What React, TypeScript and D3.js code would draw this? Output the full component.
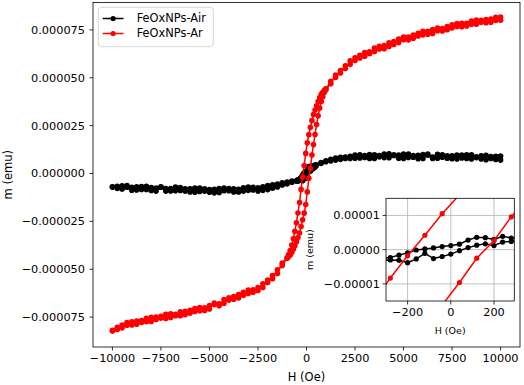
import React from 'react';
import * as d3 from 'd3';

// field steps (Oe), in the order of the descending sweep
const arField = [
  10000, 9750, 9500, 9250, 9000, 8750, 8500, 8250, 8000, 7750, 7500, 7250, 7000, 6750, 6500, 6250, 6000, 5750,
  5500, 5250, 5000, 4750, 4500, 4250, 4000, 3750, 3500, 3250, 3000, 2750, 2500, 2250, 2000, 1750, 1500, 1250,
  1000, 920, 840, 760, 680, 600, 520, 440, 360, 280, 200, 120, 40, -40, -120, -200, -280, -360, -440, -520,
  -600, -680, -760, -840, -920, -1000,
  -1250, -1500, -1750, -2000, -2250, -2500, -2750, -3000, -3250, -3500, -3750, -4000, -4250, -4500, -4750,
  -5000, -5250, -5500, -5750, -6000, -6250, -6500, -6750, -7000, -7250, -7500, -7750, -8000, -8250, -8500,
  -8750, -9000, -9250, -9500, -9750, -10000,
];
// moment in micro-emu, descending branch
const arDown = [
  81.7, 79.9, 80.6, 78.7, 80.0, 80.2, 78.0, 77.0, 78.4, 76.8, 77.7, 75.1, 75.7, 75.9, 73.1, 74.2, 72.4, 73.2,
  70.6, 71.2, 71.3, 68.4, 68.9, 66.3, 66.8, 66.4, 63.7, 63.5, 61.2, 61.7, 59.0, 58.8, 54.8, 53.8, 50.2, 48.1,
  44.2, 43.4, 42.4, 41.3, 39.6, 37.6, 35.4, 33.2, 30.8, 27.6, 24.1, 20.3, 16.0, 10.5, 4.2, -1.8, -8.3, -15.2,
  -20.6, -25.7, -30.2, -34.1, -37.4, -40.2, -42.3, -44.0,
  -46.8, -52.2, -53.3, -56.9, -57.6, -61.1, -60.7, -62.7, -62.0, -65.0, -64.3, -64.9, -67.7, -68.1, -67.7,
  -70.7, -70.1, -71.7, -70.5, -73.0, -71.9, -74.3, -73.5, -73.3, -75.7, -74.6, -76.2, -75.1, -77.4, -76.8,
  -78.7, -77.4, -79.2, -79.2, -81.4, -82.3,
];
// ascending branch, same field order
const arUp = [
  80.0, 81.6, 79.0, 80.4, 79.0, 78.0, 79.6, 78.5, 76.7, 78.3, 76.0, 76.8, 74.4, 74.6, 75.2, 72.7, 74.2, 71.8,
  72.3, 69.8, 69.9, 70.2, 67.4, 68.2, 65.2, 65.0, 65.5, 62.5, 63.1, 60.3, 60.4, 57.0, 56.3, 52.5, 51.4, 46.9,
  43.8, 42.4, 40.1, 37.6, 34.2, 30.1, 25.6, 20.4, 15.1, 9.6, 2.6, -2.5, -9.6, -16.2, -20.7, -24.2, -27.7,
  -31.1, -33.4, -35.6, -37.7, -39.6, -41.2, -42.5, -43.4, -44.2,
  -48.1, -50.3, -54.9, -55.6, -59.5, -59.5, -62.0, -60.8, -63.6, -63.2, -65.7, -66.1, -65.8, -69.1, -68.4,
  -68.9, -71.5, -70.0, -72.0, -71.5, -73.7, -72.2, -74.3, -75.2, -73.5, -75.5, -74.9, -77.3, -75.6, -77.8,
  -77.1, -79.1, -77.8, -80.6, -80.3, -81.9,
];

const airField = [
  10000, 9750, 9500, 9250, 9000, 8750, 8500, 8250, 8000, 7750, 7500, 7250, 7000, 6750, 6500, 6250, 6000, 5750,
  5500, 5250, 5000, 4750, 4500, 4250, 4000, 3750, 3500, 3250, 3000, 2750, 2500, 2250, 2000, 1750, 1500, 1250,
  1000, 750, 500,
  440, 400, 360, 320, 280, 240, 200, 160, 120, 80, 40, 0, -40, -80, -120, -160, -200, -240, -280, -320, -360,
  -400, -440,
  -500, -750, -1000, -1250, -1500, -1750, -2000, -2250, -2500, -2750, -3000, -3250, -3500, -3750, -4000,
  -4250, -4500, -4750, -5000, -5250, -5500, -5750, -6000, -6250, -6500, -6750, -7000, -7250, -7500, -7750,
  -8000, -8250, -8500, -8750, -9000, -9250, -9500, -9750, -10000,
];
const airDown = [
  9.1, 7.3, 8.8, 7.2, 9.3, 8.7, 7.6, 9.8, 8.1, 9.6, 7.7, 9.2, 9.8, 8.0, 8.6, 10.1, 7.9, 9.5,
  8.5, 10.1, 7.8, 9.7, 9.4, 8.2, 10.1, 8.7, 9.8, 7.9, 9.4, 8.1, 9.7, 7.9, 8.6, 7.4, 8.1, 6.6,
  6.7, 5.2, 4.6,
  4.4, 4.2, 3.9, 3.6, 3.4, 3.9, 3.0, 3.5, 3.6, 2.8, 1.6, 1.2, 0.9, 0.5, 0.2, -0.1, -0.9, -1.6, -2.3, -2.6,
  -2.9, -3.1, -3.4,
  -3.5, -4.6, -4.5, -6.0, -5.5, -7.7, -6.3, -8.8, -7.4, -8.6, -7.1, -9.2, -8.2, -9.6, -7.8,
  -9.0, -7.8, -10.1, -8.4, -8.0, -9.4, -7.6, -9.6, -8.0, -8.9, -7.1, -9.1, -7.9, -7.0, -9.2,
  -7.3, -8.3, -6.8, -8.6, -7.2, -6.3, -8.1, -6.7, -7.1,
];
const airUp = [
  7.0, 9.0, 7.9, 9.5, 7.6, 8.3, 9.8, 7.9, 9.7, 7.6, 9.3, 8.0, 8.5, 10.0, 7.9, 9.5, 9.9, 7.7,
  9.4, 8.4, 10.1, 8.0, 9.8, 10.3, 8.3, 9.4, 7.9, 9.9, 8.4, 9.8, 8.0, 9.0, 7.9, 8.5, 7.0, 7.4,
  6.1, 5.7, 4.1,
  3.5, 3.1, 2.8, 2.6, 2.4, 2.2, 1.2, 1.7, 1.3, 0.6, -0.3, -1.3, -2.0, -2.6, -1.1, -2.7, -3.8, -3.1, -3.0,
  -3.2, -3.5, -3.7, -3.9,
  -4.0, -3.9, -5.4, -4.9, -7.0, -5.9, -8.4, -6.9, -9.2, -7.2, -8.8, -7.5, -9.6, -8.0, -9.0,
  -7.6, -9.9, -8.2, -9.8, -9.2, -7.6, -9.8, -8.0, -9.2, -7.3, -9.0, -7.9, -9.2, -7.2, -7.6,
  -8.9, -6.7, -8.3, -6.9, -8.7, -7.2, -6.4, -7.8, -6.9,
];

const xTicks = [-10000, -7500, -5000, -2500, 0, 2500, 5000, 7500, 10000];
const yTicks = [-0.000075, -0.00005, -0.000025, 0, 0.000025, 0.00005, 0.000075];
const insetXTicks = [-200, 0, 200];
const insetYTicks = [-0.00001, 0, 0.00001];

const series = [
  { name: 'FeOxNPs-Air', color: 'black', field: airField, down: airDown, up: airUp },
  { name: 'FeOxNPs-Ar', color: 'red', field: arField, down: arDown, up: arUp },
];

const FONT = 'DejaVu Sans, sans-serif';

type Pt = [number, number];

// full loop: down sweep then back up
const loop = (field: number[], down: number[], up: number[]): Pt[] => {
  const a: Pt[] = field.map((h, i) => [h, down[i] * 1e-6]);
  const b: Pt[] = field.map((h, i) => [h, up[i] * 1e-6] as Pt).reverse();
  return a.concat(b);
};

const Curves = ({ x, y, r, lw }: { x: any; y: any; r: number; lw: number }) => {
  const line = d3.line<Pt>().x((d) => x(d[0])).y((d) => y(d[1]));
  return (
    <g>
      {series.map((s) => {
        const pts = loop(s.field, s.down, s.up);
        return (
          <g key={s.name}>
            <path d={line(pts) || ''} fill="none" stroke={s.color} strokeWidth={lw} />
            {pts.map((d, i) => (
              <circle key={i} cx={x(d[0])} cy={y(d[1])} r={r} fill={s.color} />
            ))}
          </g>
        );
      })}
    </g>
  );
};

export default function App() {
  const left = 93, right = 520, top = 2.5, bottom = 347;
  const x = d3.scaleLinear().domain([-11000, 11000]).range([left, right]);
  const y = d3.scaleLinear().domain([-90.6e-6, 89.3e-6]).range([bottom, top]);

  const il = 386, ir = 514.3, it = 198.3, ib = 301;
  const ix = d3.scaleLinear().domain([-300, 294]).range([il, ir]);
  const iy = d3.scaleLinear().domain([-15e-6, 15e-6]).range([ib, it]);

  const fy = d3.format('.6f');
  const fiy = d3.format('.5f');
  const fx = d3.format('d');

  return (
    <svg width={524} height={385} style={{ position: 'absolute', left: 0, top: 0 }} fontFamily={FONT}>
      <rect width={524} height={385} fill="white" />
      <defs>
        <clipPath id="mainClip">
          <rect x={left} y={top} width={right - left} height={bottom - top} />
        </clipPath>
        <clipPath id="insetClip">
          <rect x={il} y={it} width={ir - il} height={ib - it} />
        </clipPath>
      </defs>

      {/* main plot */}
      <g clipPath="url(#mainClip)">
        <Curves x={x} y={y} r={2.8} lw={1.5} />
      </g>
      <rect x={left} y={top} width={right - left} height={bottom - top} fill="none" stroke="black" strokeWidth={0.8} />
      {xTicks.map((t) => (
        <g key={t}>
          <line x1={x(t)} x2={x(t)} y1={bottom} y2={bottom + 3.5} stroke="black" strokeWidth={0.8} />
          <text x={x(t)} y={bottom + 15} textAnchor="middle" fontSize={11.3}>{fx(t)}</text>
        </g>
      ))}
      {yTicks.map((t) => (
        <g key={t}>
          <line x1={left - 3.5} x2={left} y1={y(t)} y2={y(t)} stroke="black" strokeWidth={0.8} />
          <text x={left - 8} y={y(t)} dy="0.35em" textAnchor="end" fontSize={11.3}>{fy(t)}</text>
        </g>
      ))}
      <text x={(left + right) / 2} y={381} textAnchor="middle" fontSize={11.5}>H (Oe)</text>
      <text transform={`translate(12,${(top + bottom) / 2}) rotate(-90)`} textAnchor="middle" fontSize={11.5}>m (emu)</text>

      {/* legend */}
      <rect x={98.3} y={7.3} width={115} height={39.4} rx={3} fill="white" fillOpacity={0.8} stroke="#cccccc" strokeWidth={0.8} />
      {series.map((s, i) => {
        const ly = 18.5 + i * 15;
        return (
          <g key={s.name}>
            <line x1={102.7} x2={123.5} y1={ly} y2={ly} stroke={s.color} strokeWidth={1.5} />
            <circle cx={113.1} cy={ly} r={2.6} fill={s.color} />
            <text x={136.7} y={ly} dy="0.35em" fontSize={11.4}>{s.name}</text>
          </g>
        );
      })}

      {/* inset */}
      <rect x={il} y={it} width={ir - il} height={ib - it} fill="white" />
      {insetXTicks.map((t) => (
        <line key={t} x1={ix(t)} x2={ix(t)} y1={it} y2={ib} stroke="#b0b0b0" strokeWidth={0.8} />
      ))}
      {insetYTicks.map((t) => (
        <line key={t} x1={il} x2={ir} y1={iy(t)} y2={iy(t)} stroke="#b0b0b0" strokeWidth={0.8} />
      ))}
      <g clipPath="url(#insetClip)">
        <Curves x={ix} y={iy} r={2.6} lw={1.5} />
      </g>
      <rect x={il} y={it} width={ir - il} height={ib - it} fill="none" stroke="black" strokeWidth={0.8} />
      {insetXTicks.map((t) => (
        <g key={t}>
          <line x1={ix(t)} x2={ix(t)} y1={ib} y2={ib + 3.5} stroke="black" strokeWidth={0.8} />
          <text x={ix(t)} y={ib + 15} textAnchor="middle" fontSize={11.3}>{fx(t)}</text>
        </g>
      ))}
      {insetYTicks.map((t) => (
        <g key={t}>
          <line x1={il - 3.5} x2={il} y1={iy(t)} y2={iy(t)} stroke="black" strokeWidth={0.8} />
          <text x={il - 6} y={iy(t)} dy="0.35em" textAnchor="end" fontSize={11.3}>{fiy(t)}</text>
        </g>
      ))}
      <text x={(il + ir) / 2} y={333.5} textAnchor="middle" fontSize={9.5}>H (Oe)</text>
      <text transform={`translate(312.5,${(it + ib) / 2}) rotate(-90)`} textAnchor="middle" fontSize={9.5}>m (emu)</text>
    </svg>
  );
}
